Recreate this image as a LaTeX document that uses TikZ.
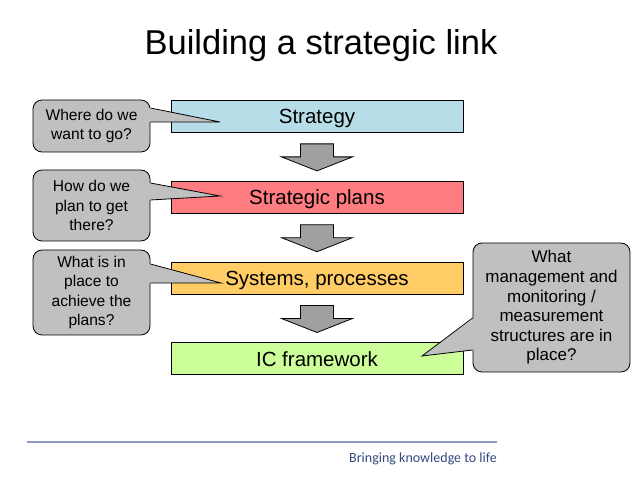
\documentclass[tikz,border=0pt]{standalone}
\usepackage{fontspec}
\setmainfont{Liberation Sans}
\newfontfamily\taglinefont{Carlito}
\usepackage{xcolor}
\usepackage{tikz}
\usetikzlibrary{positioning,calc}

\definecolor{stratblue}{HTML}{B7DEE8}
\definecolor{planred}{HTML}{FF7C80}
\definecolor{sysorange}{HTML}{FFCC66}
\definecolor{icgreen}{HTML}{CCFF99}
\definecolor{callgray}{HTML}{C0C0C0}
\definecolor{arrowgray}{HTML}{A0A0A0}
\definecolor{rulegray}{HTML}{8A9BC4}
\definecolor{taglineblue}{HTML}{34497C}

\begin{document}
\begin{tikzpicture}[
    x=1pt, y=1pt,
    stage/.style={draw, minimum width=292pt, minimum height=32pt, inner sep=0pt,
                  text depth=0pt, align=center, line width=0.8pt,
                  font=\fontsize{20.5}{24}\selectfont},
    callbox/.style={draw, fill=callgray, rounded corners=9pt, minimum width=117pt,
                    inner sep=0pt, align=center, line width=0.8pt,
                    font=\fontsize{15.6}{19.5}\selectfont},
    callline/.style={line width=0.8pt, line join=miter},
    blockarrow/.style={draw, fill=arrowgray, line width=0.8pt, line join=miter}
]
\useasboundingbox (0,0) rectangle (638,479);

%% Title
\node[anchor=base, font=\fontsize{34.5}{40}\selectfont] (title) at (321,424)
  {Building a strategic link};

%% Stages
\node[stage, fill=stratblue] (strat) at (317,362.5) {Strategy};
\node[stage, fill=planred, below=48pt of strat] (plans) {Strategic plans};
\node[stage, fill=sysorange, below=48pt of plans] (sys) {Systems, processes};
\node[stage, fill=icgreen, below=48pt of sys] (icf) {IC framework};

%% Down arrows between stages
\foreach \src/\dst in {strat/plans, plans/sys, sys/icf}
  \draw[blockarrow] ($(\src.south)+(-16.5,-11)$) -- ++(0,-13) -- ++(-19,0)
    -- ($(\dst.north)+(0,10)$) -- ++(35.5,14) -- ++(-19,0) -- ++(0,13) -- cycle;

%% Questions
\node[callbox, minimum height=52pt] (q1) at (91.5,353)
  {Where do we\\want to go?};
\node[callbox, minimum height=71pt] (q2) at (91.5,273.5)
  {How do we\\plan to get\\there?};
\node[callbox, minimum height=85pt] (q3) at (91.5,186.5)
  {What is in\\place to\\achieve the\\plans?};
\node[callbox, minimum width=157pt, minimum height=129pt,
      font=\fontsize{17}{19.6}\selectfont] (q4) at (551.5,171.5)
  {What\\management and\\monitoring /\\measurement\\structures are in\\place?};

%% Pointers
\coordinate (tip1) at (220,357);
\coordinate (tip2) at (220,283);
\coordinate (tip3) at (221,196);
\coordinate (tip4) at (422,123);

\fill[callgray] ($(q1.east)+(-1.5,18)$) -- (tip1) -- ($(q1.east)+(-1.5,4)$) -- cycle;
\draw[callline] ($(q1.east)+(0,18)$) -- (tip1) -- ($(q1.east)+(0,4)$);

\fill[callgray] ($(q2.east)+(-1.5,22.5)$) -- (tip2) -- ($(q2.east)+(-1.5,5.5)$) -- cycle;
\draw[callline] ($(q2.east)+(0,22.5)$) -- (tip2) -- ($(q2.east)+(0,5.5)$);

\fill[callgray] ($(q3.east)+(-1.5,28.5)$) -- (tip3) -- ($(q3.east)+(-1.5,9.5)$) -- cycle;
\draw[callline] ($(q3.east)+(0,28.5)$) -- (tip3) -- ($(q3.east)+(0,9.5)$);

\fill[callgray] ($(q4.west)+(1.5,-10.5)$) -- (tip4) -- ($(q4.west)+(1.5,-42.5)$) -- cycle;
\draw[callline] ($(q4.west)+(0,-10.5)$) -- (tip4) -- ($(q4.west)+(0,-42.5)$);

%% Footer
\coordinate (ruleL) at (27,37);
\coordinate (ruleR) at (497,37);
\draw[rulegray, line width=1.2pt] (ruleL) -- (ruleR);
\node[anchor=base east, inner sep=0pt, text=taglineblue,
      font=\taglinefont\fontsize{14}{16}\selectfont] (tagline) at (497,16)
  {Bringing knowledge to life};

\end{tikzpicture}
\end{document}
